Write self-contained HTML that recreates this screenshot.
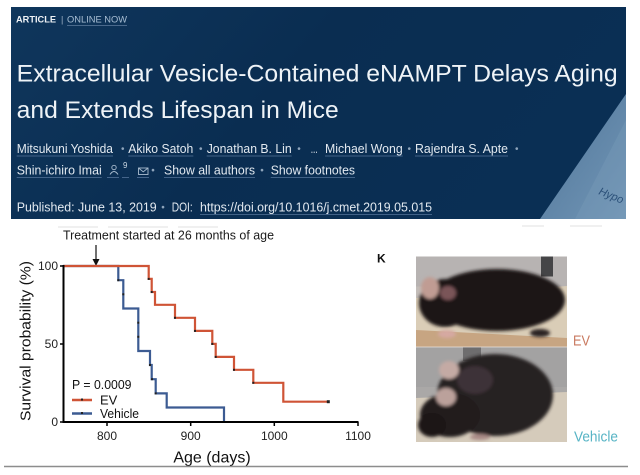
<!DOCTYPE html>
<html><head><meta charset="utf-8">
<style>
html,body{margin:0;padding:0;background:#fff;}
svg{display:block;}
text{font-family:"Liberation Sans",Arial,sans-serif;}
</style></head>
<body>
<svg width="640" height="475" viewBox="0 0 640 475" xmlns="http://www.w3.org/2000/svg">
<defs>
  <linearGradient id="hdr" x1="0" y1="0" x2="1" y2="0.3">
    <stop offset="0" stop-color="#0f365c"/>
    <stop offset="0.5" stop-color="#0a2d51"/>
    <stop offset="1" stop-color="#0a2f54"/>
  </linearGradient>
  <linearGradient id="tri" x1="0" y1="0" x2="1" y2="1">
    <stop offset="0" stop-color="#4f7599"/>
    <stop offset="1" stop-color="#7296b6"/>
  </linearGradient>
  <filter id="bl" x="-10%" y="-10%" width="120%" height="120%"><feGaussianBlur stdDeviation="1.6"/></filter>
  <clipPath id="p1"><rect x="416" y="256.5" width="151" height="90.5"/></clipPath>
  <clipPath id="p2"><rect x="416" y="347" width="151" height="95"/></clipPath>
</defs>

<rect x="0" y="0" width="640" height="475" fill="#fff"/>

<!-- HEADER -->
<rect x="11" y="7" width="615" height="212" fill="url(#hdr)"/>
<polygon points="626,94 626,219 540,219" fill="url(#tri)"/>
<polygon points="626,120 626,219 575,219 " fill="#7c9dbb" opacity="0.35"/>
<text x="598" y="194" font-size="11" fill="#2b5079" font-style="italic" transform="rotate(22 598 194)">Hypo</text>

<text x="16" y="22.5" font-size="9" font-weight="bold" fill="#eef2f6" textLength="40" lengthAdjust="spacingAndGlyphs">ARTICLE</text>
<text x="61" y="22.5" font-size="9" fill="#9fb2c6">|</text>
<text x="67" y="22.5" font-size="9" fill="#a9bfd4" textLength="60" lengthAdjust="spacingAndGlyphs">ONLINE NOW</text>
<line x1="67" y1="25.5" x2="127" y2="25.5" stroke="#5f7d9e" stroke-width="0.8"/>

<text x="16.7" y="81.5" font-size="24" fill="#eef3f7" textLength="601" lengthAdjust="spacingAndGlyphs">Extracellular Vesicle-Contained eNAMPT Delays Aging</text>
<text x="16.7" y="118" font-size="24" fill="#eef3f7" textLength="322" lengthAdjust="spacingAndGlyphs">and Extends Lifespan in Mice</text>

<g font-size="13" fill="#e2e9f0">
  <text x="16.7" y="153" textLength="96.3" lengthAdjust="spacingAndGlyphs">Mitsukuni Yoshida</text>
  <text x="128.3" y="153" textLength="65" lengthAdjust="spacingAndGlyphs">Akiko Satoh</text>
  <text x="206.7" y="153" textLength="85" lengthAdjust="spacingAndGlyphs">Jonathan B. Lin</text>
  <text x="310.7" y="153" textLength="7" lengthAdjust="spacingAndGlyphs">...</text>
  <text x="325" y="153" textLength="77.7" lengthAdjust="spacingAndGlyphs">Michael Wong</text>
  <text x="415" y="153" textLength="93" lengthAdjust="spacingAndGlyphs">Rajendra S. Apte</text>

  <text x="16.7" y="174.5" textLength="85" lengthAdjust="spacingAndGlyphs">Shin-ichiro Imai</text>
  <text x="164" y="174.5" textLength="91" lengthAdjust="spacingAndGlyphs">Show all authors</text>
  <text x="270.7" y="174.5" textLength="84.3" lengthAdjust="spacingAndGlyphs">Show footnotes</text>

  <text x="16.7" y="211.5" textLength="140" lengthAdjust="spacingAndGlyphs">Published: June 13, 2019</text>
  <text x="171.7" y="211.5" textLength="21" lengthAdjust="spacingAndGlyphs">DOI:</text>
  <text x="200" y="211.5" textLength="232" lengthAdjust="spacingAndGlyphs">https://doi.org/10.1016/j.cmet.2019.05.015</text>
</g>
<g font-size="10" fill="#8ea4bb" text-anchor="middle">
  <text x="122.7" y="152">•</text>
  <text x="200.7" y="152">•</text>
  <text x="299" y="152">•</text>
  <text x="409.3" y="152">•</text>
  <text x="516.7" y="152">•</text>
  <text x="153" y="173.5">•</text>
  <text x="262" y="173.5">•</text>
  <text x="163" y="210.5">•</text>
</g>
<g stroke="#55749a" stroke-width="0.8">
  <line x1="16.7" y1="156" x2="113" y2="156"/>
  <line x1="128.3" y1="156" x2="193.3" y2="156"/>
  <line x1="206.7" y1="156" x2="291.7" y2="156"/>
  <line x1="325" y1="156" x2="402.7" y2="156"/>
  <line x1="415" y1="156" x2="508" y2="156"/>
  <line x1="16.7" y1="177.5" x2="101.7" y2="177.5"/>
  <line x1="107" y1="177.5" x2="119" y2="177.5"/>
  <line x1="122" y1="177.5" x2="129" y2="177.5"/>
  <line x1="137" y1="177.5" x2="149" y2="177.5"/>
  <line x1="164" y1="177.5" x2="255" y2="177.5"/>
  <line x1="270.7" y1="177.5" x2="355" y2="177.5"/>
  <line x1="200" y1="214.5" x2="432" y2="214.5"/>
</g>
<g stroke="#a9bccf" stroke-width="0.9" fill="none">
  <circle cx="114" cy="167.5" r="2.2"/>
  <path d="M110 174.5 Q114 168.5 118 174.5"/>
  <rect x="138.5" y="168" width="9.5" height="6.5"/>
  <path d="M138.5 168 L143.25 171.8 L148 168"/>
</g>
<text x="123" y="168" font-size="8" fill="#c9d6e2">9</text>

<!-- faint artifacts below header -->
<g fill="#f0f0f0">
  <rect x="58" y="226" width="40" height="2"/>
  <rect x="108" y="226" width="60" height="2"/>
  <rect x="178" y="226" width="40" height="2"/>
  <rect x="522" y="225" width="22" height="2"/>
  <rect x="570" y="225" width="32" height="2"/>
</g>

<!-- CHART -->
<text x="63" y="239.5" font-size="13" fill="#1a1a1a" textLength="211" lengthAdjust="spacingAndGlyphs">Treatment started at 26 months of age</text>
<line x1="96" y1="245" x2="96" y2="260" stroke="#111" stroke-width="1.2"/>
<polygon points="92.5,259 99.5,259 96,266" fill="#111"/>

<path d="M63,266 H118.3 V280.2 H123.3 V308.5 H138.3 V351 H150 V365 H151.7 V379.2 H155.7 V393.4 H166.7 V407.5 H224 V421.7" fill="none" stroke="#3c5b92" stroke-width="2.2"/>
<path d="M63,266 H148.7 V278.9 H151.7 V292 H155 V304.8 H175 V317.8 H195 V330.9 H212.3 V343.9 H215.7 V356.9 H234 V369.8 H253.3 V382.8 H283.3 V401.7 H328.3" fill="none" stroke="#cf5436" stroke-width="2.2"/>
<g fill="#222">
  <rect x="117.3" y="279.2" width="2" height="2"/>
  <rect x="122.3" y="293.3" width="2" height="2"/>
  <rect x="137.3" y="321.7" width="2" height="2"/>
  <rect x="137.3" y="335.8" width="2" height="2"/>
  <rect x="149" y="364" width="2" height="2"/>
  <rect x="151" y="378.2" width="2" height="2"/>
  <rect x="154.7" y="392.4" width="2" height="2"/>
  <rect x="147.7" y="277.9" width="2" height="2"/>
  <rect x="150.7" y="291" width="2" height="2"/>
  <rect x="174" y="316.8" width="2" height="2"/>
  <rect x="194" y="329.9" width="2" height="2"/>
  <rect x="211.3" y="342.9" width="2" height="2"/>
  <rect x="214.7" y="355.9" width="2" height="2"/>
  <rect x="233" y="368.8" width="2" height="2"/>
  <rect x="252.3" y="381.8" width="2" height="2"/>
  <rect x="326.8" y="400.2" width="3" height="3"/>
</g>

<line x1="63.5" y1="265" x2="63.5" y2="423" stroke="#000" stroke-width="2"/>
<line x1="62.5" y1="422" x2="358.5" y2="422" stroke="#000" stroke-width="2"/>
<g stroke="#000" stroke-width="1.5">
  <line x1="60" y1="266" x2="63" y2="266"/>
  <line x1="60" y1="344" x2="63" y2="344"/>
  <line x1="60" y1="422" x2="63" y2="422"/>
  <line x1="107" y1="422" x2="107" y2="426"/>
  <line x1="190.7" y1="422" x2="190.7" y2="426"/>
  <line x1="274.3" y1="422" x2="274.3" y2="426"/>
  <line x1="358" y1="422" x2="358" y2="426"/>
</g>
<g font-size="12" fill="#222" text-anchor="end">
  <text x="58" y="270">100</text>
  <text x="58" y="348">50</text>
  <text x="58" y="426">0</text>
</g>
<g font-size="12" fill="#222" text-anchor="middle">
  <text x="107" y="440">800</text>
  <text x="190.7" y="440">900</text>
  <text x="274.3" y="440">1000</text>
  <text x="358" y="440">1100</text>
</g>
<text x="212" y="462.5" font-size="16" fill="#111" text-anchor="middle">Age (days)</text>
<text x="0" y="0" font-size="15" fill="#111" text-anchor="middle" transform="translate(30.5 341) rotate(-90)" textLength="160" lengthAdjust="spacingAndGlyphs">Survival probability (%)</text>

<text x="72" y="389" font-size="13" fill="#111" textLength="59.5" lengthAdjust="spacingAndGlyphs">P = 0.0009</text>
<line x1="72" y1="400" x2="92" y2="400" stroke="#cf5436" stroke-width="2.4"/>
<rect x="81" y="398.5" width="2" height="2" fill="#222"/>
<text x="100" y="404.5" font-size="13" fill="#111">EV</text>
<line x1="72" y1="413.5" x2="92" y2="413.5" stroke="#3c5b92" stroke-width="2.4"/>
<rect x="81" y="412" width="2" height="2" fill="#222"/>
<text x="100" y="418" font-size="13" fill="#111" textLength="39" lengthAdjust="spacingAndGlyphs">Vehicle</text>

<!-- RIGHT PANEL -->
<text x="377" y="262.5" font-size="12" font-weight="bold" fill="#111">K</text>

<g clip-path="url(#p1)">
  <rect x="416" y="256.5" width="151" height="91" fill="#c3bdb9"/>
  <rect x="416" y="256.5" width="151" height="30" fill="#b7b3b2"/>
  <rect x="541" y="256.5" width="12" height="20" fill="#454547"/>
  <polygon points="416,298 567,286 567,347 416,347" fill="#dacdb7"/>
  <polygon points="416,330 567,338 567,347 416,347" fill="#c7a582"/>
  <g filter="url(#bl)">
    <ellipse cx="497" cy="300" rx="68" ry="31" fill="#1c1616"/>
    <ellipse cx="445" cy="303" rx="26" ry="24" fill="#1f1818"/>
    <ellipse cx="430" cy="288" rx="9" ry="11" fill="#c09c93"/>
    <ellipse cx="448" cy="293" rx="8" ry="7" fill="#7a5558"/>
    <ellipse cx="447" cy="334" rx="9" ry="4" fill="#d6a9a2"/>
    <ellipse cx="540" cy="333" rx="10" ry="4" fill="#2a2020"/>
  </g>
</g>
<g clip-path="url(#p2)">
  <rect x="416" y="347" width="151" height="95" fill="#aaa8a7"/>
  <rect x="416" y="347" width="151" height="40" fill="#a3a2a2"/>
  <rect x="463" y="347" width="18" height="14" fill="#6e6d6e"/>
  <polygon points="416,398 567,392 567,442 416,442" fill="#d5cbbb"/>
  <g filter="url(#bl)">
    <ellipse cx="495" cy="395" rx="58" ry="41" fill="#262022"/>
    <ellipse cx="450" cy="415" rx="30" ry="22" fill="#201a1b"/>
    <ellipse cx="432" cy="425" rx="14" ry="12" fill="#1b1617"/>
    <ellipse cx="449" cy="370" rx="10" ry="9" fill="#c4aaa4"/>
    <ellipse cx="446" cy="397" rx="10" ry="9" fill="#bba19b"/>
    <ellipse cx="475" cy="380" rx="18" ry="14" fill="#3d3337"/>
    <ellipse cx="480" cy="437" rx="10" ry="3" fill="#a98a86"/>
  </g>
</g>
<line x1="416" y1="347" x2="567" y2="347" stroke="#e8e2dc" stroke-width="0.8"/>

<text x="573" y="345.5" font-size="15" fill="#c97a60" textLength="17" lengthAdjust="spacingAndGlyphs">EV</text>
<text x="574" y="441.5" font-size="15" fill="#57b4c5" textLength="44" lengthAdjust="spacingAndGlyphs">Vehicle</text>

<line x1="4" y1="466.5" x2="628" y2="466.5" stroke="#8d8d8d" stroke-width="1.4"/>
</svg>
</body></html>
